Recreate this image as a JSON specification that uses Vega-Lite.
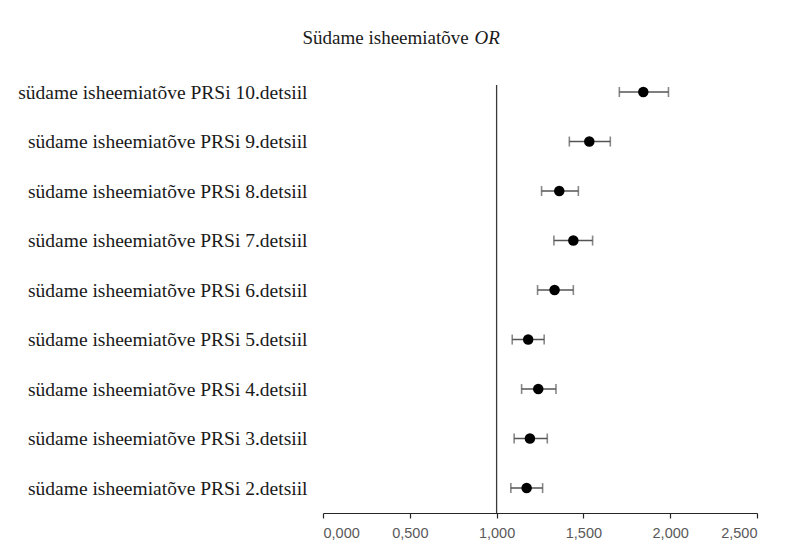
{
  "$schema": "https://vega.github.io/schema/vega-lite/v6.json",
  "width": 434,
  "height": 428,
  "autosize": "none",
  "padding": {"left": 323, "top": 85, "right": 30, "bottom": 35},
  "background": "white",
  "config": {"view": {"stroke": null}},
  "data": {
    "values": [
      {"label": "südame isheemiatõve PRSi 10.detsiil", "or": 1.845, "lo": 1.707, "hi": 1.990},
      {"label": "südame isheemiatõve PRSi 9.detsiil", "or": 1.534, "lo": 1.419, "hi": 1.655},
      {"label": "südame isheemiatõve PRSi 8.detsiil", "or": 1.361, "lo": 1.259, "hi": 1.471},
      {"label": "südame isheemiatõve PRSi 7.detsiil", "or": 1.442, "lo": 1.330, "hi": 1.553},
      {"label": "südame isheemiatõve PRSi 6.detsiil", "or": 1.334, "lo": 1.236, "hi": 1.442},
      {"label": "südame isheemiatõve PRSi 5.detsiil", "or": 1.182, "lo": 1.090, "hi": 1.274},
      {"label": "südame isheemiatõve PRSi 4.detsiil", "or": 1.240, "lo": 1.144, "hi": 1.342},
      {"label": "südame isheemiatõve PRSi 3.detsiil", "or": 1.192, "lo": 1.101, "hi": 1.292},
      {"label": "südame isheemiatõve PRSi 2.detsiil", "or": 1.173, "lo": 1.082, "hi": 1.265}
    ]
  },
  "encoding": {
    "y": {
      "field": "label",
      "type": "nominal",
      "sort": null,
      "scale": {"type": "point", "padding": 0.323, "align": 0.22},
      "axis": {
        "domain": false,
        "ticks": false,
        "grid": false,
        "labelFont": "Liberation Serif",
        "labelFontSize": 19.5,
        "labelColor": "#1a1a1a",
        "labelPadding": 16,
        "labelLimit": 400,
        "title": "OR",
        "titleFont": "Liberation Serif",
        "titleFontStyle": "italic",
        "titleFontWeight": "normal",
        "titleFontSize": 19,
        "titleColor": "#1a1a1a",
        "titleAngle": 0,
        "titleAlign": "left",
        "titleBaseline": "alphabetic",
        "titleX": 151,
        "titleY": -42
      }
    }
  },
  "layer": [
    {
      "data": {"values": [{"ref": 1}]},
      "mark": {"type": "rule", "color": "#3a3a3a", "strokeWidth": 1.3},
      "encoding": {
        "x": {"field": "ref", "type": "quantitative", "scale": {"domain": [0, 2.5]}},
        "y": null
      }
    },
    {
      "mark": {"type": "rule", "color": "#555555", "strokeWidth": 1.6},
      "encoding": {
        "x": {"field": "lo", "type": "quantitative", "scale": {"domain": [0, 2.5]}},
        "x2": {"field": "hi"}
      }
    },
    {
      "mark": {"type": "tick", "orient": "vertical", "color": "#555555", "size": 10, "thickness": 1.6},
      "encoding": {
        "x": {"field": "lo", "type": "quantitative", "scale": {"domain": [0, 2.5]}}
      }
    },
    {
      "mark": {"type": "tick", "orient": "vertical", "color": "#555555", "size": 10, "thickness": 1.6},
      "encoding": {
        "x": {"field": "hi", "type": "quantitative", "scale": {"domain": [0, 2.5]}}
      }
    },
    {
      "mark": {"type": "circle", "color": "#000000", "opacity": 1, "size": 110},
      "encoding": {
        "x": {
          "field": "or",
          "type": "quantitative",
          "scale": {"domain": [0, 2.5]},
          "axis": {
            "values": [0, 0.5, 1, 1.5, 2, 2.5],
            "grid": false,
            "domainColor": "#262626",
            "domainWidth": 1.2,
            "tickColor": "#262626",
            "tickWidth": 1.2,
            "tickSize": 5,
            "labelFont": "Liberation Sans",
            "labelFontSize": 14.5,
            "labelColor": "#595959",
            "labelPadding": 8,
            "labelExpr": "replace(format(datum.value, '.3f'), '.', ',')",
            "title": "Südame isheemiatõve",
            "titleFont": "Liberation Serif",
            "titleFontWeight": "normal",
            "titleFontSize": 19,
            "titleColor": "#1a1a1a",
            "titleAlign": "left",
            "titleBaseline": "alphabetic",
            "titleX": -21,
            "titleY": -470
          }
        }
      }
    }
  ]
}
